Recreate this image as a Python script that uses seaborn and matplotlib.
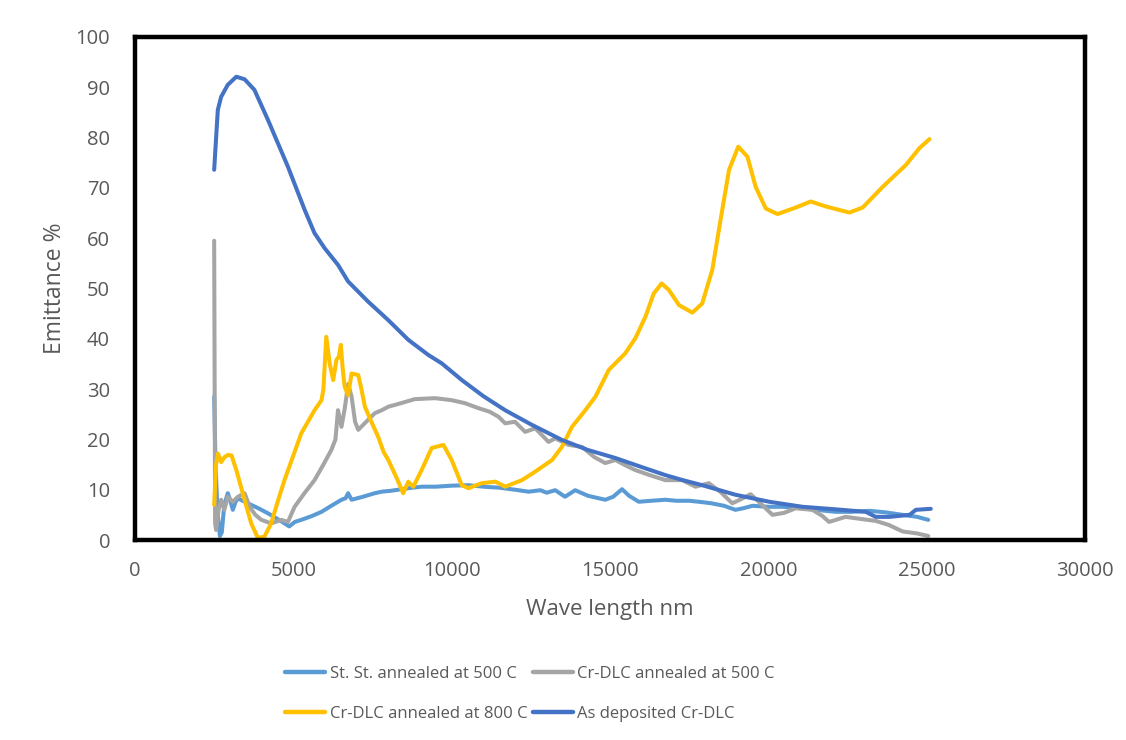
import numpy as np
import pandas as pd
import matplotlib
matplotlib.use("Agg")
import matplotlib.pyplot as plt
import seaborn as sns
from matplotlib.lines import Line2D

# ---------------- data ----------------
ss500_x = [2500, 2540, 2600, 2680, 2740, 2820, 2930, 3000, 3090, 3170, 3250, 3400, 3560, 3900,
           4200, 4550, 4870, 5050, 5250, 5600, 5890, 6200, 6520, 6650, 6730, 6840, 7200, 7570,
           7790, 8100, 8630, 9050, 9500, 10000, 10530, 11000, 11500, 12000, 12430, 12800, 13000,
           13270, 13580, 13900, 14300, 14850, 15100, 15380, 15600, 15910, 16300, 16750, 17100,
           17500, 17810, 18200, 18600, 18960, 19200, 19500, 20000, 20450, 21080, 21500, 22120,
           22600, 23200, 23700, 24240, 24700, 25050]
ss500_y = [28.5, 16, 6, 0.8, 1.5, 7, 9.3, 8, 6, 7.5, 8.3, 7.8, 7.3, 6.3,
           5.3, 4.0, 2.7, 3.6, 4.0, 4.8, 5.6, 6.8, 8.0, 8.3, 9.3, 8.0, 8.6, 9.3,
           9.6, 9.8, 10.3, 10.6, 10.6, 10.8, 10.9, 10.6, 10.4, 10.0, 9.6, 9.9, 9.4,
           9.9, 8.6, 9.9, 8.8, 8.0, 8.6, 10.1, 8.8, 7.6, 7.8, 8.0, 7.8,
           7.8, 7.6, 7.3, 6.8, 6.0, 6.3, 6.8, 6.6, 6.6, 6.3, 6.0, 5.6,
           5.6, 5.8, 5.5, 5.0, 4.6, 4.0]

cr500_x = [2500, 2530, 2560, 2640, 2720, 2820, 2930, 3090, 3250, 3460, 3620, 3800, 3990, 4300,
           4620, 4830, 5040, 5350, 5670, 5950, 6200, 6330, 6410, 6520, 6620, 6730, 6840, 6950,
           7050, 7300, 7570, 7790, 8000, 8400, 8830, 9470, 10000, 10420, 10850, 11200, 11480,
           11690, 12000, 12320, 12640, 13060, 13270, 13700, 14120, 14500, 14850, 15170, 15500,
           15800, 16300, 16750, 17280, 17700, 18120, 18500, 18860, 19100, 19440, 19800, 20130,
           20500, 20860, 21390, 21700, 21920, 22440, 22900, 23390, 23800, 24240, 24700, 25050]
cr500_y = [59.5, 3.3, 2.0, 6, 8.0, 6.0, 8.6, 7.6, 8.6, 9.3, 6.6, 5.0, 4.0, 3.3,
           4.0, 3.6, 6.6, 9.3, 11.9, 15, 17.9, 20, 25.8, 22.5, 26, 31, 28.5, 23.5,
           21.9, 23.5, 25.2, 25.8, 26.5, 27.2, 28.0, 28.2, 27.8, 27.2, 26.2, 25.5, 24.5,
           23.2, 23.5, 21.5, 22.2, 19.5, 20.2, 18.9, 18.5, 16.5, 15.3, 15.9, 14.8,
           13.9, 12.8, 11.9, 11.9, 10.6, 11.3, 9.5, 7.3, 8.0, 9.1, 7.0, 5.0,
           5.4, 6.3, 6.0, 4.8, 3.6, 4.6, 4.2, 3.8, 3.0, 1.7, 1.3, 0.8]

cr800_x = [2500, 2560, 2620, 2720, 2830, 2930, 3050, 3200, 3460, 3670, 3880, 4090, 4300, 4500,
           4720, 5000, 5250, 5670, 5890, 5950, 6040, 6150, 6260, 6360, 6440, 6500, 6560, 6620,
           6730, 6840, 7050, 7150, 7260, 7500, 7680, 7850, 8000, 8250, 8470, 8630, 8790, 9050,
           9370, 9740, 10000, 10320, 10530, 10950, 11380, 11690, 12220, 12640, 13170, 13480,
           13800, 14220, 14540, 14960, 15480, 15800, 16120, 16380, 16630, 16860, 17180, 17600,
           17910, 18230, 18490, 18760, 19050, 19340, 19600, 19920, 20290, 20870, 21340, 21820,
           22560, 22980, 23610, 24350, 24770, 25090]
cr800_y = [7, 15, 17.2, 15.5, 16.5, 16.9, 16.8, 13.9, 8.0, 3.3, 0.4, 0.7, 3.3, 7.5,
           11.9, 16.8, 21.2, 25.8, 27.8, 30, 40.4, 35, 31.8, 35.8, 36.5, 38.8, 34, 30.5,
           28.8, 33.1, 32.8, 30, 26.5, 23, 20.5, 17.5, 15.9, 12.5, 9.3, 11.6, 10.6, 13.9,
           18.3, 18.9, 15.9, 10.9, 10.3, 11.3, 11.6, 10.6, 11.9, 13.6, 15.9, 18.5,
           22.5, 25.8, 28.5, 33.8, 37.1, 40.1, 44.4, 49, 51, 49.7, 46.7, 45.2,
           47, 53.7, 63.6, 73.6, 78.2, 76.2, 70.2, 65.9, 64.8, 66.1, 67.3, 66.3,
           65.1, 66.1, 70.2, 74.6, 77.9, 79.7]

asdep_x = [2500, 2615, 2720, 2930, 3200, 3460, 3770, 4200, 4830, 4990, 5360, 5670, 5990, 6410,
           6730, 7360, 8000, 8630, 9260, 9690, 10320, 11000, 11690, 12500, 13480, 14300, 15170,
           16000, 16750, 17300, 17910, 18960, 20030, 21080, 22120, 23080, 23390, 23830, 24460,
           24660, 25130]
asdep_y = [73.6, 85.5, 88.1, 90.5, 92.1, 91.6, 89.5, 83.5, 74.2, 71.6, 65.6, 61.0, 58.0, 54.7,
           51.4, 47.4, 43.7, 39.8, 36.8, 35.1, 31.8, 28.6, 25.8, 23.0, 19.9, 17.9, 16.3,
           14.5, 12.9, 11.9, 10.9, 9.0, 7.6, 6.6, 6.1, 5.6, 4.6, 4.6, 5.0,
           6.0, 6.2]

series_names = ["St. St. annealed at 500 C", "Cr-DLC annealed at 500 C",
                "Cr-DLC annealed at 800 C", "As deposited Cr-DLC"]
series_colors = ["#5B9BD5", "#A5A5A5", "#FFC000", "#4472C4"]

x_ticks = [0, 5000, 10000, 15000, 20000, 25000, 30000]
y_ticks = [0, 10, 20, 30, 40, 50, 60, 70, 80, 90, 100]

# ---------------- build long table ----------------
frames = []
for name, xs, ys in zip(series_names,
                        [ss500_x, cr500_x, cr800_x, asdep_x],
                        [ss500_y, cr500_y, cr800_y, asdep_y]):
    frames.append(pd.DataFrame({"Wave length nm": xs, "Emittance %": ys, "series": name}))
df = pd.concat(frames, ignore_index=True)

sns.set_theme(style="white")
plt.rcParams["font.family"] = ["Open Sans", "DejaVu Sans"]

fig = plt.figure(figsize=(11.26, 7.40), dpi=100)
ax = fig.add_axes([135 / 1126, 1 - 540 / 740, (1085 - 135) / 1126, (540 - 37) / 740])

sns.lineplot(data=df, x="Wave length nm", y="Emittance %", hue="series",
             hue_order=series_names, palette=series_colors, estimator=None,
             sort=False, linewidth=2.9, ax=ax, legend=False)

ax.set_xlim(0, 30000)
ax.set_ylim(0, 100)
ax.set_xticks(x_ticks)
ax.set_yticks(y_ticks)
ax.set_xticklabels([str(t) for t in x_ticks])
ax.set_yticklabels([str(t) for t in y_ticks])
ax.tick_params(axis="both", length=0, colors="#595959", labelsize=14.5)
ax.tick_params(axis="y", pad=18)
ax.tick_params(axis="x", pad=15)
for s in ax.spines.values():
    s.set_color("black")
    s.set_linewidth(3.2)
    s.set_visible(True)
ax.grid(False)
ax.set_xlabel("Wave length nm", color="#595959", fontsize=16, labelpad=13)
ax.set_ylabel("Emittance %", color="#595959", fontsize=16.5, labelpad=6)

# legend: row-wise order
handles = [Line2D([0], [0], color=c, lw=3.2) for c in series_colors]
order = [0, 2, 1, 3]
fig.legend([handles[i] for i in order], [series_names[i] for i in order],
           ncol=2, loc="center", bbox_to_anchor=(530 / 1126, 1 - 694 / 740), frameon=False,
           fontsize=12, labelcolor="#595959", handlelength=2.4, handletextpad=0.25,
           columnspacing=0.35, labelspacing=1.45)

fig.savefig("out.png", dpi=100)
